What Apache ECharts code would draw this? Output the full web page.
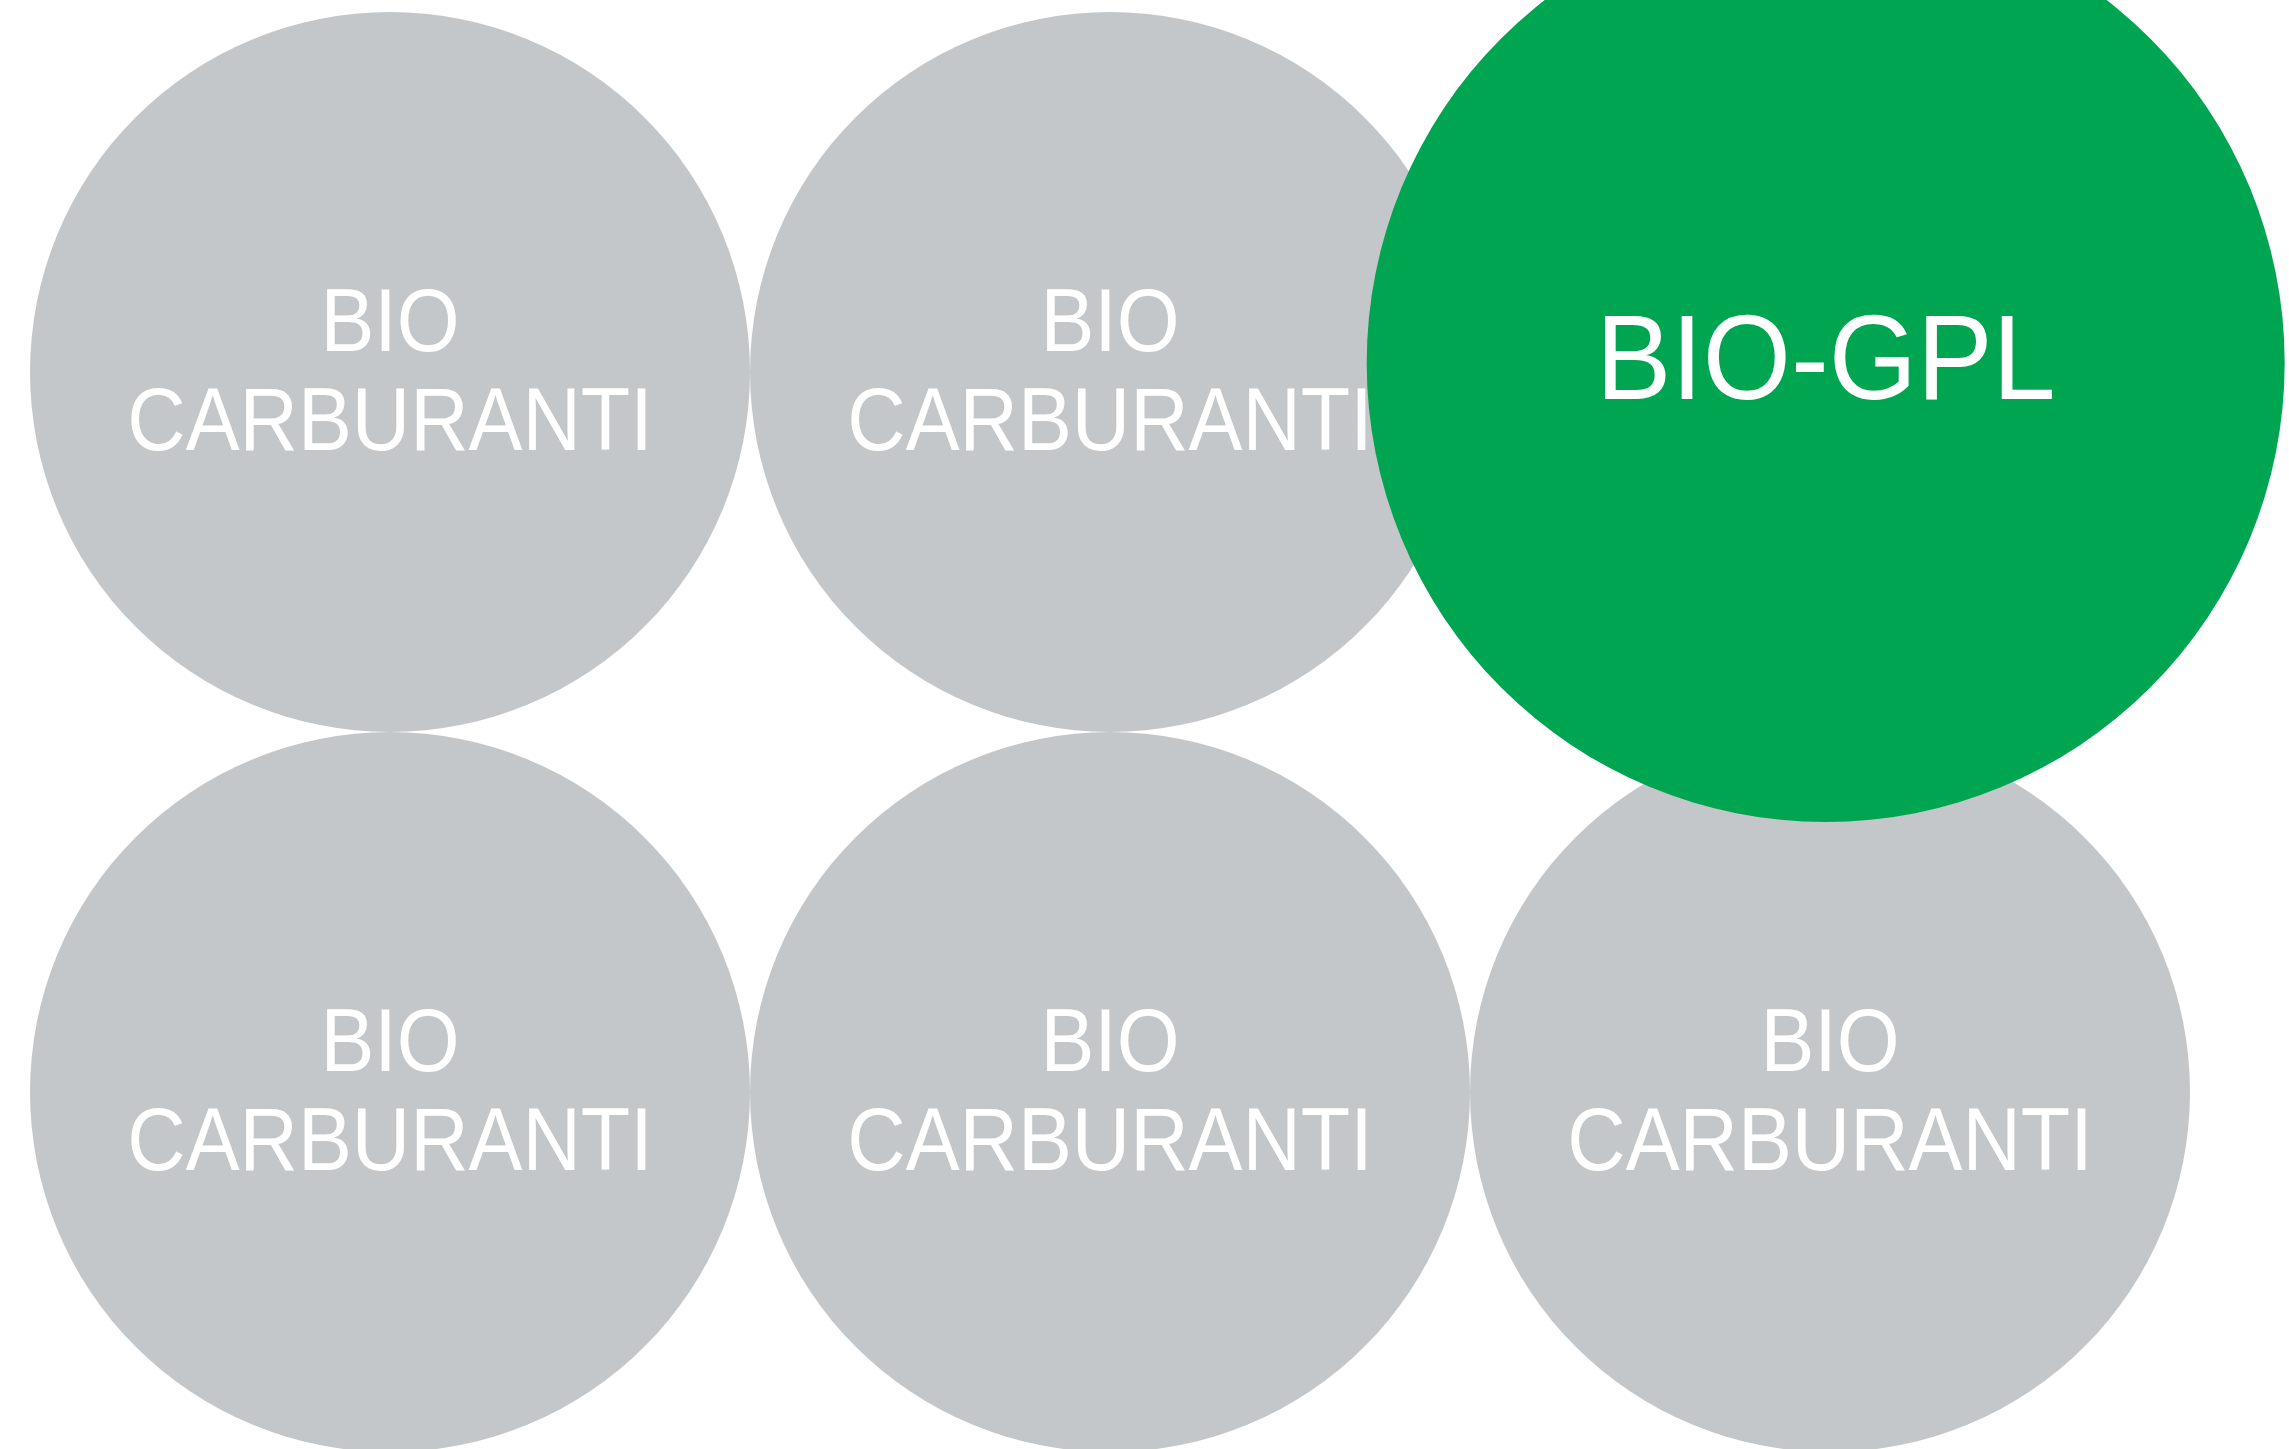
<!DOCTYPE html>
<html>
<head>
<meta charset="utf-8">
<script src="https://cdn.jsdelivr.net/npm/echarts@6/dist/echarts.min.js"></script>
<style>
  html, body { margin: 0; padding: 0; background: #ffffff; }
  #chart { width: 2289px; height: 1449px; }
</style>
</head>
<body>
<div id="chart"></div>
<script>
// Data
const labels = ['BIO\nCARBURANTI', 'BIO\nCARBURANTI', 'BIO\nCARBURANTI', 'BIO\nCARBURANTI', 'BIO\nCARBURANTI', 'BIO-GPL'];
const cols   = [0, 1, 0, 1, 2, 1.994];
const rows   = [0, 0, 1, 1, 1, -0.0125];
const sizes  = [1, 1, 1, 1, 1, 1.275];
const highlighted = [false, false, false, false, false, true];

const UNIT = 720; // pixels per grid unit (circle diameter for size 1)
const GRAY = '#c4c7c9';
const GREEN = '#00a551';

const chart = echarts.init(document.getElementById('chart'), null, { renderer: 'canvas' });

const mkData = (keep) => labels.map((l, i) => ({
  value: [cols[i], rows[i], sizes[i]],
  name: l,
  itemStyle: { color: highlighted[i] ? GREEN : GRAY, opacity: 1 },
  hl: highlighted[i]
})).filter(d => d.hl === keep).map(d => ({ value: d.value, name: d.name, itemStyle: d.itemStyle }));

const baseSeries = {
  type: 'scatter',
  symbol: 'circle',
  symbolSize: v => v[2] * UNIT,
  clip: false,
  silent: true,
  animation: false,
  emphasis: { disabled: true },
  itemStyle: { opacity: 1 },
  label: { show: false }
};

chart.setOption({
  backgroundColor: '#ffffff',
  animation: false,
  grid: { left: 0, top: 0, width: 2289, height: 1449, containLabel: false },
  xAxis: { type: 'value', min: -390 / UNIT, max: (2289 - 390) / UNIT, show: false },
  yAxis: { type: 'value', inverse: true, min: -372 / UNIT, max: (1449 - 372) / UNIT, show: false },
  series: [
    Object.assign({}, baseSeries, { z: 1, data: mkData(false) }),
    Object.assign({}, baseSeries, { z: 5, data: mkData(true) })
  ]
});

// Labels positioned through the chart's own scales
const texts = labels.map((l, i) => {
  const p = chart.convertToPixel({ gridIndex: 0 }, [cols[i], rows[i]]);
  const hl = highlighted[i];
  return {
    type: 'text',
    x: p[0],
    y: p[1] + (hl ? 3 : 4),
    scaleX: hl ? 0.945 : 0.908,
    z: hl ? 10 : 3,
    silent: true,
    style: {
      text: l,
      fill: '#ffffff',
      fontFamily: 'Arial',
      fontSize: hl ? 120 : 89,
      lineHeight: hl ? 124 : 99,
      align: 'center',
      verticalAlign: 'middle'
    }
  };
});
chart.setOption({ graphic: texts });
</script>
</body>
</html>
